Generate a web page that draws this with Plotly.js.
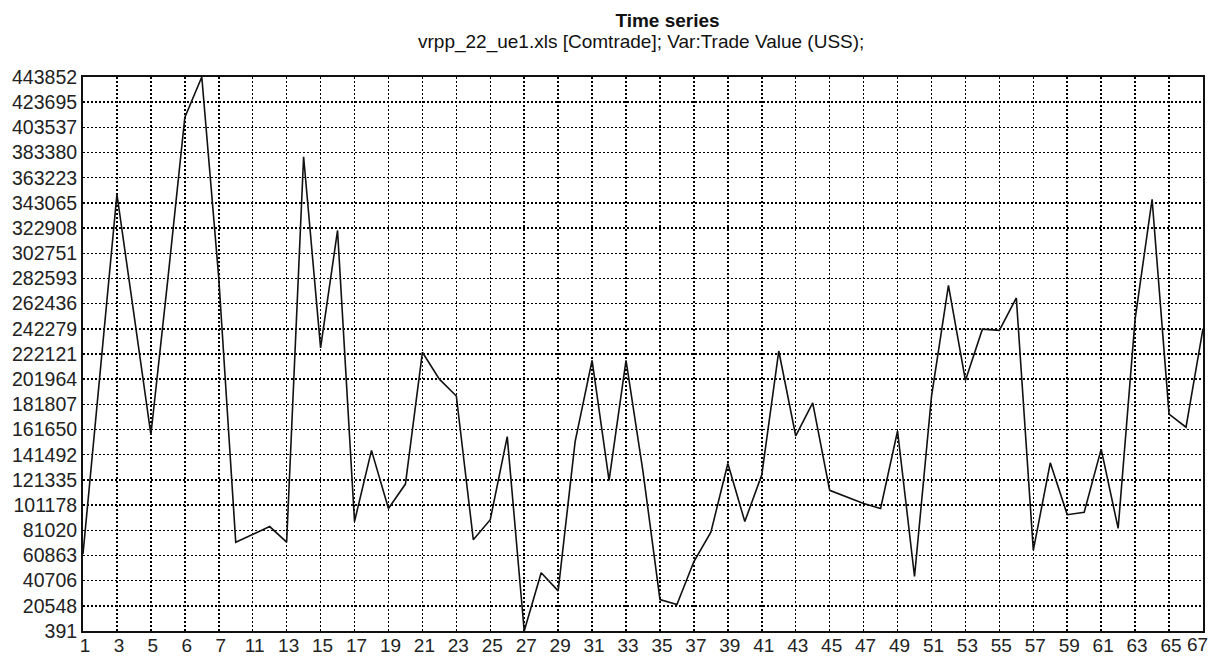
<!DOCTYPE html>
<html>
<head>
<meta charset="utf-8">
<script src="https://cdn.plot.ly/plotly-3.0.1.min.js"></script>
<style>html,body{margin:0;padding:0;background:#fff;}#chart{width:1211px;height:657px;}</style>
</head>
<body>
<div id="chart"></div>
<script>
// Period index (1..67) and trade values (US$)
const periods = [1,2,3,4,5,6,7,8,9,10,11,12,13,14,15,16,17,18,19,20,21,22,23,24,25,26,27,28,29,30,31,32,33,34,35,36,37,38,39,40,41,42,43,44,45,46,47,48,49,50,51,52,53,54,55,56,57,58,59,60,61,62,63,64,65,66,67];
const tradeValue = [
  62000, 207000, 350000, 254000, 157500, 282000, 411500, 443852, 283000, 71500,
  78000, 84000, 71500, 380000, 227000, 321000, 88000, 145000, 98500, 118000,
  223500, 202000, 188500, 73500, 89500, 156000, 391, 47000, 32500, 152000,
  217000, 121000, 217000, 128000, 25500, 21500, 56000, 79500, 134500, 88000,
  125500, 224500, 156500, 183000, 113000, 107500, 102500, 98500, 160500, 44000,
  188000, 277000, 201000, 242000, 241000, 267000, 65000, 135000, 93500, 95500,
  146000, 82500, 250000, 346000, 174000, 163500, 242500
];
// Tick positions and labels on the x axis
const xTickVals = [1,3,5,7,9,11,13,15,17,19,21,23,25,27,29,31,33,35,37,39,41,43,45,47,49,51,53,55,57,59,61,63,65,67];
const xTickText = ["1","3","5","6","7","11","13","15","17","19","21","23","25","27","29","31","33","35","37","39","41","43","45","47","49","51","53","55","57","59","61","63","65","67"];
// Y axis tick values
const yTickVals = [391,20548,40706,60863,81020,101178,121335,141492,161650,181807,201964,222121,242279,262436,282593,302751,322908,343065,363223,383380,403537,423695,443852];

const FONT = "Liberation Sans, Arial, sans-serif";
const nT = xTickText.length;

// the last x label sits on the right border: draw it right-aligned so it stays on the page
const xTickDisplay = xTickText.map((t, i) => i === nT - 1 ? '' : t);

const trace = {
  x: periods,
  y: tradeValue,
  type: 'scatter',
  mode: 'lines',
  line: {color: '#111', width: 1.6},
  connectgaps: true,
  hoverinfo: 'x+y'
};

const layout = {
  width: 1211,
  height: 657,
  margin: {l: 83, r: 8, t: 77, b: 26},
  paper_bgcolor: '#fff',
  plot_bgcolor: '#fff',
  showlegend: false,
  font: {family: FONT, color: '#222', size: 19},
  title: {
    text: '<b>Time series</b>',
    x: 632/1211, xanchor: 'center', xref: 'paper',
    y: 1 - 20/657, yanchor: 'middle', yref: 'container',
    font: {family: FONT, size: 19, color: '#111'}
  },
  annotations: [{
    text: 'vrpp_22_ue1.xls [Comtrade]; Var:Trade Value (USS);',
    xref: 'paper', yref: 'paper',
    x: (641-83)/1120, y: 1 + (77-42)/554,
    xanchor: 'center', yanchor: 'middle',
    showarrow: false,
    font: {family: FONT, size: 19, color: '#111'}
  }, {
    text: xTickText[nT - 1],
    xref: 'x', yref: 'paper',
    x: xTickVals[nT - 1], y: 0,
    xanchor: 'right', yanchor: 'top',
    xshift: 7, yshift: -1,
    showarrow: false,
    font: {family: FONT, size: 19, color: '#222'}
  }],
  xaxis: {
    range: [1, 67],
    tickmode: 'array',
    tickvals: xTickVals,
    ticktext: xTickDisplay,
    ticks: '',
    ticklabelstandoff: -4,
    ticklabelshift: 2,
    showgrid: true,
    gridcolor: '#000',
    gridwidth: 1.5,
    griddash: '2px,2px',
    showline: true,
    linecolor: '#111',
    linewidth: 2,
    mirror: true,
    zeroline: false,
    tickfont: {family: FONT, size: 19, color: '#222'},
    fixedrange: true
  },
  yaxis: {
    range: [391, 443852],
    tickmode: 'array',
    tickvals: yTickVals,
    ticktext: yTickVals.map(String),
    ticks: '',
    showgrid: true,
    gridcolor: '#000',
    gridwidth: 1.5,
    griddash: '2px,2px',
    showline: true,
    linecolor: '#111',
    linewidth: 2,
    mirror: true,
    zeroline: false,
    tickfont: {family: FONT, size: 19.5, color: '#222'},
    fixedrange: true
  }
};

Plotly.newPlot('chart', [trace], layout, {displayModeBar: false, staticPlot: true});
</script>
</body>
</html>
